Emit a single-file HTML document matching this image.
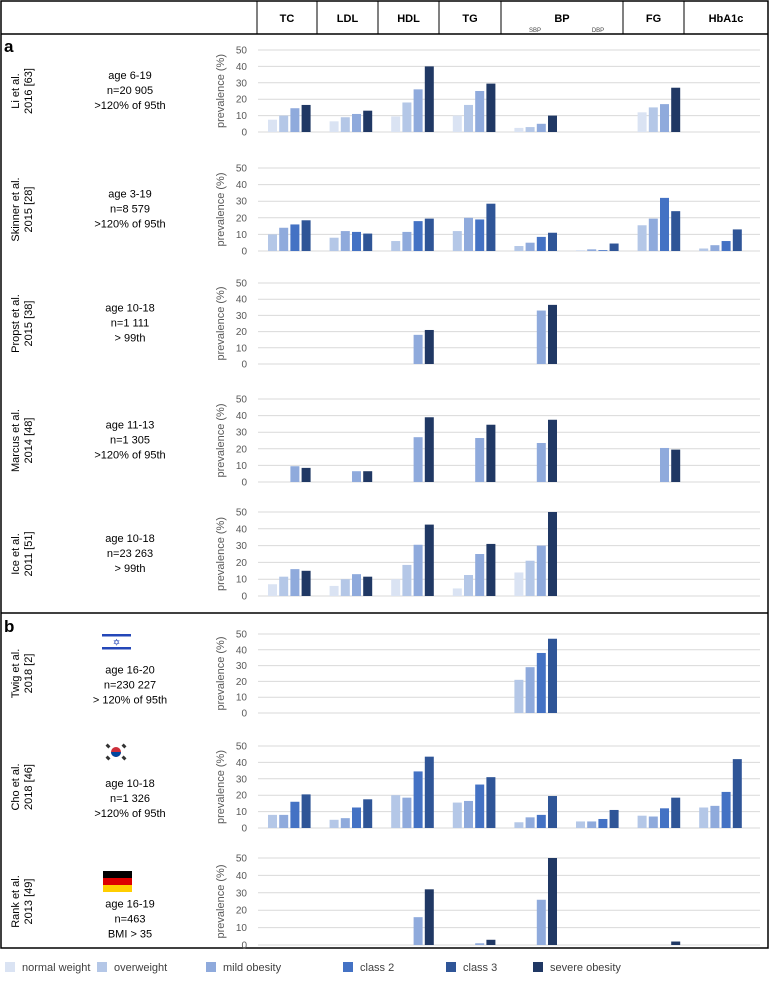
<!DOCTYPE html>
<html><head><meta charset="utf-8"><style>
html,body{margin:0;padding:0;background:#fff}
svg{display:block;font-family:"Liberation Sans",sans-serif}
</style></head><body>
<svg id="chart" width="770" height="992" viewBox="0 0 770 992" xmlns="http://www.w3.org/2000/svg"></svg>
<script>
const categories = ["TC","LDL","HDL","TG","SBP","DBP","FG","HbA1c"];
const yTicks = [0,10,20,30,40,50];
const seriesNames = ["normal weight","overweight","mild obesity","class 2","class 3","severe obesity"];
const seriesColors = ["#dae3f3","#b4c7e7","#8faadc","#4472c4","#2f5597","#203864"];
const liValues = [[7.5,10,14.5,16.5],[6.5,9,11,13],[9.5,18,26,40],[10,16.5,25,29.5],[2.5,3,5,10],[null,null,null,null],[12,15,17,27],[null,null,null,null]];
const skinnerValues = [[10,14,16,18.5],[8,12,11.5,10.5],[6,11.5,18,19.5],[12,20,19,28.5],[3,5,8.5,11],[0.3,1,0.5,4.5],[15.5,19.5,32,24],[1.5,3.5,6,13]];
const propstValues = [[null,null,null,null],[null,null,null,null],[null,null,18,21],[null,null,null,null],[null,null,33,36.5],[null,null,null,null],[null,null,null,null],[null,null,null,null]];
const marcusValues = [[null,null,9.5,8.5],[null,null,6.5,6.5],[null,null,27,39],[null,null,26.5,34.5],[null,null,23.5,37.5],[null,null,null,null],[null,null,20.5,19.5],[null,null,null,null]];
const iceValues = [[7,11.5,16,15],[6,10,13,11.5],[10,18.5,30.5,42.5],[4.5,12.5,25,31],[14,21,30,50],[null,null,null,null],[null,null,null,null],[null,null,null,null]];
const twigValues = [[null,null,null,null],[null,null,null,null],[null,null,null,null],[null,null,null,null],[21,29,38,47],[null,null,null,null],[null,null,null,null],[null,null,null,null]];
const choValues = [[8,8,16,20.5],[5,6,12.5,17.5],[20,18.5,34.5,43.5],[15.5,16.5,26.5,31],[3.5,6.5,8,19.5],[4,4,5.5,11],[7.5,7,12,18.5],[12.5,13.5,22,42]];
const rankValues = [[null,null,null,null],[null,null,null,null],[null,null,16,32],[null,null,1,3],[null,null,26,50],[null,null,null,null],[null,null,null,2],[null,null,null,null]];

const studies = [
 {key:"li",a:"Li et al.",b:"2016 [63]",info:["age 6-19","n=20 905",">120% of 95th"],vals:liValues,cols:[0,1,2,5],zero:132,top:50,off:-12},
 {key:"skinner",a:"Skinner et al.",b:"2015 [28]",info:["age 3-19","n=8 579",">120% of 95th"],vals:skinnerValues,cols:[1,2,3,4],zero:251,top:168,off:-12},
 {key:"propst",a:"Propst et al.",b:"2015 [38]",info:["age 10-18","n=1 111","> 99th"],vals:propstValues,cols:[1,2,2,5],zero:364,top:283,off:-12},
 {key:"marcus",a:"Marcus et al.",b:"2014 [48]",info:["age 11-13","n=1 305",">120% of 95th"],vals:marcusValues,cols:[1,2,2,5],zero:482,top:399,off:-12},
 {key:"ice",a:"Ice et al.",b:"2011 [51]",info:["age 10-18","n=23 263","> 99th"],vals:iceValues,cols:[0,1,2,5],zero:596,top:512,off:-12},
 {key:"twig",a:"Twig et al.",b:"2018 [2]",info:["age 16-20","n=230 227","> 120% of 95th"],vals:twigValues,cols:[1,2,3,4],zero:713,top:634,flag:"il",off:0},
 {key:"cho",a:"Cho et al.",b:"2018 [46]",info:["age 10-18","n=1 326",">120% of 95th"],vals:choValues,cols:[1,2,3,4],zero:828,top:746,flag:"kr",off:0},
 {key:"rank",a:"Rank et al.",b:"2013 [49]",info:["age 16-19","n=463","BMI > 35"],vals:rankValues,cols:[1,2,2,5],zero:945,top:858,flag:"de",off:6}
];

const svg = document.getElementById('chart');
const NS = "http://www.w3.org/2000/svg";
function mk(tag, attrs, parent){
  const e = document.createElementNS(NS, tag);
  for (const k in attrs) e.setAttribute(k, attrs[k]);
  (parent||svg).appendChild(e);
  return e;
}
const gx0 = 268, gStep = 61.6, bStep = 11.2, bW = 9;
function xBar(g,i){ return gx0 + g*gStep + i*bStep; }

let r = mk('rect',{x:1,y:1,width:767,height:947,fill:'none',stroke:'#000','stroke-width':1.5});
 
mk('line',{x1:1,y1:34,x2:768,y2:34,stroke:'#000','stroke-width':1.5});
mk('line',{x1:1,y1:613,x2:768,y2:613,stroke:'#000','stroke-width':1.5});
const hdr = [["TC",257,317],["LDL",317,378],["HDL",378,439],["TG",439,501],["BP",501,623],["FG",623,684],["HbA1c",684,768]];
hdr.forEach(h=>{
  mk('line',{x1:h[1],y1:1,x2:h[1],y2:34,stroke:'#000','stroke-width':1});
  const t = mk('text',{x:(h[1]+h[2])/2,y:22,'text-anchor':'middle','font-size':11,'font-weight':'bold',fill:'#000'});
  t.textContent = h[0];
   
});
[["SBP",535],["DBP",598]].forEach(s=>{
  const t = mk('text',{x:s[1],y:32,'text-anchor':'middle','font-size':6,fill:'#444'}); t.textContent=s[0];
   
});
let ta = mk('text',{x:4,y:52,'font-size':17,'font-weight':'bold'}); ta.textContent='a';
 
let tb = mk('text',{x:4,y:632,'font-size':17,'font-weight':'bold'}); tb.textContent='b';
 

studies.forEach(s=>{
  const g = mk('g',{});
   
  const y = v => s.zero - (v/50)*(s.zero - s.top);
  const mid = (s.zero + s.top)/2;
  yTicks.forEach(t=>{
    mk('line',{x1:258,x2:760,y1:y(t),y2:y(t),stroke:'#d9d9d9','stroke-width':1},g);
    const tx = mk('text',{x:247,y:y(t)+3.5,'text-anchor':'end','font-size':10,fill:'#595959'},g);
    tx.textContent = t;
     
  });
  const yt = mk('text',{x:0,y:0,'text-anchor':'middle','font-size':11,fill:'#595959',transform:`translate(224,${mid}) rotate(-90)`},g);
  yt.textContent='prevalence (%)';
   
  const a1 = mk('text',{x:0,y:0,'text-anchor':'middle','font-size':11,fill:'#000',transform:`translate(19,${mid}) rotate(-90)`},g);
  a1.textContent = s.a;  
  const a2 = mk('text',{x:0,y:0,'text-anchor':'middle','font-size':11,fill:'#000',transform:`translate(32,${mid}) rotate(-90)`},g);
  a2.textContent = s.b;  
  s.info.forEach((line,i)=>{
    const t = mk('text',{x:130,y:mid+s.off+i*15,'text-anchor':'middle','font-size':11,fill:'#000'},g);
    t.textContent = line;  
  });
  if (s.flag==='il'){
    const f = mk('g',{},g);  
    mk('rect',{x:102,y:633,width:29,height:18,fill:'#fff'},f);
    mk('rect',{x:102,y:634,width:29,height:2.5,fill:'#2447b8'},f);
    mk('rect',{x:102,y:647,width:29,height:2.5,fill:'#2447b8'},f);
    const st = mk('text',{x:116.5,y:645.5,'text-anchor':'middle','font-size':9,fill:'#2447b8'},f); st.textContent='✡';
  } else if (s.flag==='kr'){
    const f = mk('g',{},g);  
    mk('circle',{cx:116,cy:752,r:5,fill:'#cd2e3a'},f);
    mk('path',{d:'M111,752 a5,5 0 0,0 10,0 z',fill:'#0047a0'},f);
    [[108,746],[124,746],[108,758],[124,758]].forEach(p=>mk('rect',{x:p[0]-2,y:p[1]-1.5,width:4,height:3,fill:'#333',transform:`rotate(45 ${p[0]} ${p[1]})`},f));
  } else if (s.flag==='de'){
    const f = mk('g',{},g);  
    mk('rect',{x:103,y:871,width:29,height:7,fill:'#000'},f);
    mk('rect',{x:103,y:878,width:29,height:7,fill:'#dd0000'},f);
    mk('rect',{x:103,y:885,width:29,height:7,fill:'#ffce00'},f);
  }
  s.vals.forEach((grp,gi)=>{
    grp.forEach((v,i)=>{
      if (v===null) return;
      const b = mk('rect',{x:xBar(gi,i),y:y(v),width:bW,height:s.zero-y(v),fill:seriesColors[s.cols[i]]},g);
      
      
    });
  });
});

const legX = [5,97,206,343,446,533];
seriesNames.forEach((n,i)=>{
  const g = mk('g',{});
   
  mk('rect',{x:legX[i],y:962,width:10,height:10,fill:seriesColors[i]},g);
  const t = mk('text',{x:legX[i]+17,y:971,'font-size':11,fill:'#404040'},g);
  t.textContent = n;
});
</script>
</body></html>
